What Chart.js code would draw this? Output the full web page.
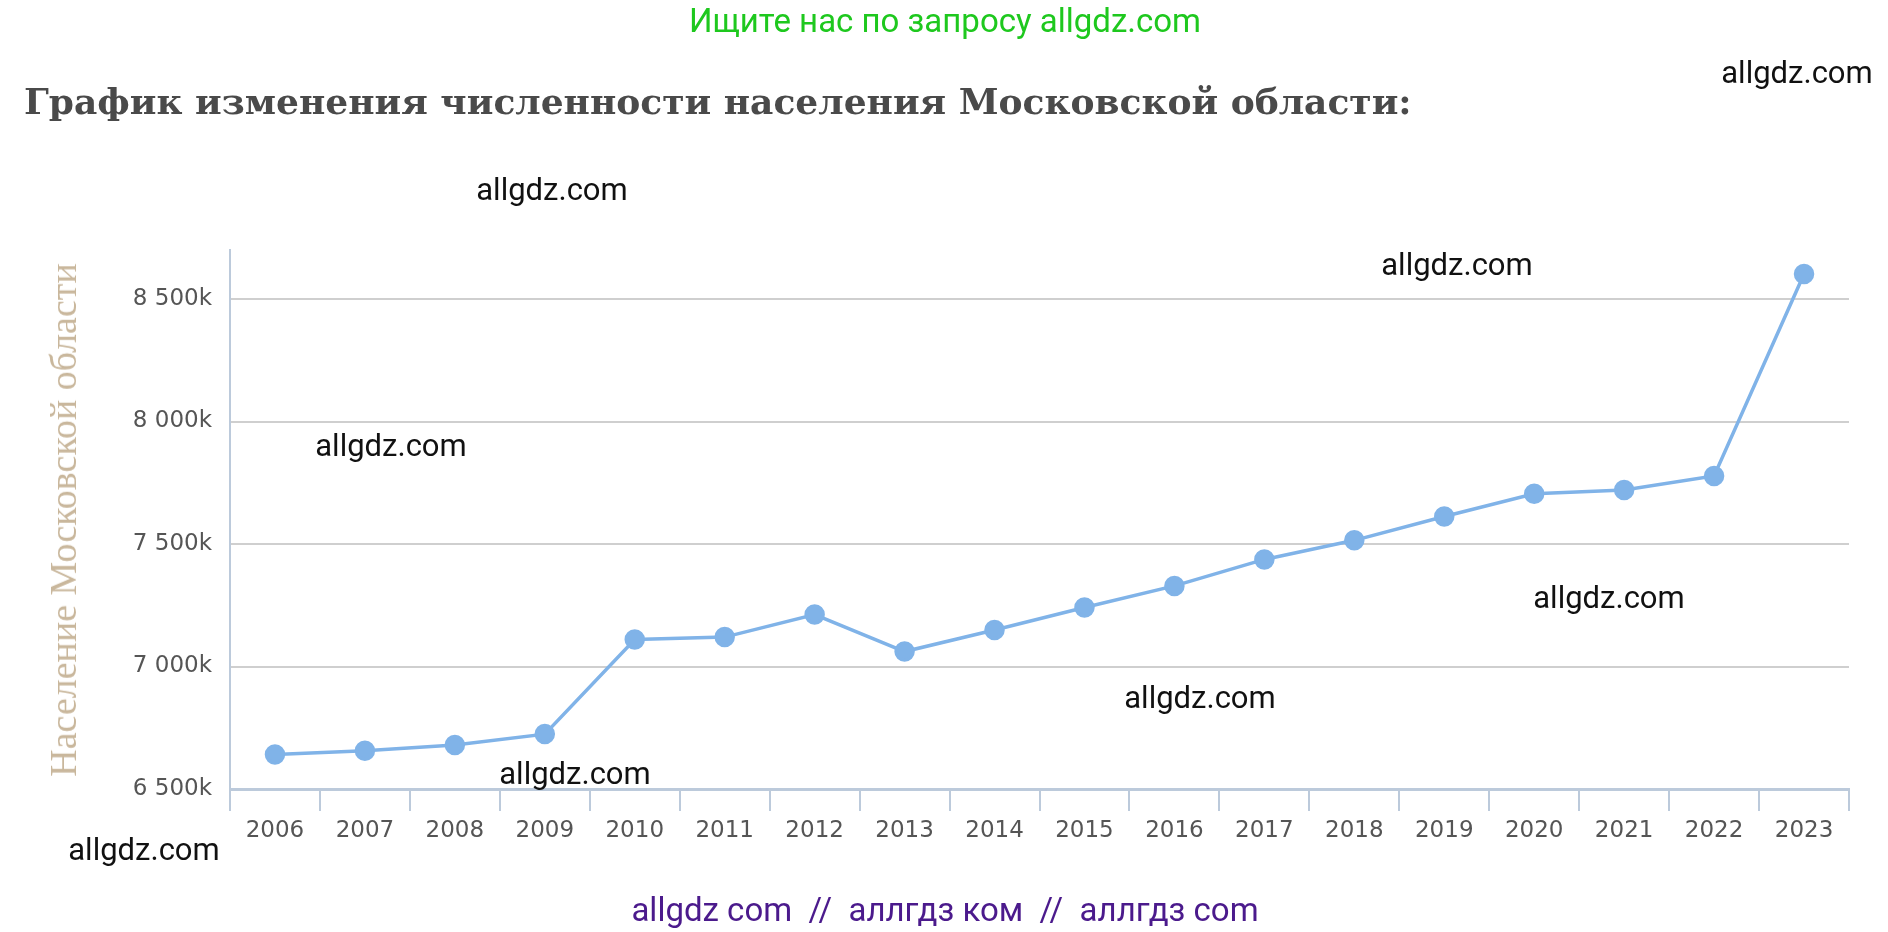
<!DOCTYPE html>
<html>
<head>
<meta charset="utf-8">
<script src="https://cdn.jsdelivr.net/npm/chart.js@4"></script>
<style>
  body { margin: 0; width: 1888px; height: 932px; background: #fff; position: relative; overflow: hidden; }
  #wrap { position: absolute; left: 0; top: 0; width: 1888px; height: 932px; }
  .t { position: absolute; white-space: nowrap; transform: translate(-50%, -50%); font-family: Roboto, sans-serif; font-size: 31px; color: #111; }
  #title { position: absolute; left: 24px; top: 80px; font-family: "DejaVu Serif", serif; font-weight: bold; font-size: 36px; color: #4a4a4a; white-space: nowrap; }
  #ytitle { position: absolute; left: 63px; top: 520px; transform: translate(-50%, -50%) rotate(-90deg); font-family: "Liberation Serif", serif; font-size: 38px; color: #c9b79c; white-space: nowrap; }
</style>
</head>
<body>
<div id="wrap"><canvas id="popChart"></canvas></div>
<div class="t" style="left:945px;top:20px;color:#1ec81e;font-size:33px;">Ищите нас по запросу allgdz.com</div>
<div id="title">График изменения численности населения Московской области:</div>
<div id="ytitle">Население Московской области</div>
<div class="t" style="left:1797px;top:72px;">allgdz.com</div>
<div class="t" style="left:552px;top:189px;">allgdz.com</div>
<div class="t" style="left:1457px;top:264px;">allgdz.com</div>
<div class="t" style="left:391px;top:445px;">allgdz.com</div>
<div class="t" style="left:1609px;top:597px;">allgdz.com</div>
<div class="t" style="left:1200px;top:697px;">allgdz.com</div>
<div class="t" style="left:575px;top:773px;">allgdz.com</div>
<div class="t" style="left:144px;top:849px;">allgdz.com</div>
<div class="t" style="left:945px;top:909px;color:#4b1a8c;font-size:33px;">allgdz com &nbsp;// &nbsp;аллгдз ком &nbsp;// &nbsp;аллгдз com</div>
<script>
const years = ["2006","2007","2008","2009","2010","2011","2012","2013","2014","2015","2016","2017","2018","2019","2020","2021","2022","2023"];
const population = [6641, 6656, 6680, 6724, 7110, 7120, 7212, 7061, 7149, 7241, 7329, 7437, 7515, 7612, 7705, 7720, 7778, 8602];
const yTicks = [6500, 7000, 7500, 8000, 8500];

function fmt(v) {
  return String(v).replace(/\B(?=(\d{3})+(?!\d))/g, " ") + "k";
}

new Chart(document.getElementById("popChart").getContext("2d"), {
  type: "line",
  data: {
    labels: years,
    datasets: [{
      data: population,
      borderColor: "#80b3e8",
      backgroundColor: "#80b3e8",
      borderWidth: 3.5,
      pointRadius: 8.5,
      pointHoverRadius: 8.5,
      tension: 0
    }]
  },
  options: {
    responsive: true,
    maintainAspectRatio: false,
    animation: false,
    layout: { padding: { top: 250, right: 39, left: 0, bottom: 0 } },
    plugins: { legend: { display: false }, tooltip: { enabled: false } },
    scales: {
      x: {
        offset: true,
        afterFit: s => { s.height = 143; },
        grid: { offset: true, drawOnChartArea: false, color: "#bccadb", tickLength: 22, lineWidth: 2 },
        border: { color: "#bccadb", width: 3 },
        ticks: { color: "#555", font: { family: "DejaVu Sans", size: 23 }, padding: 6 }
      },
      y: {
        min: 6500,
        max: 8700,
        afterFit: s => { s.width = 230; },
        afterBuildTicks: s => { s.ticks = yTicks.map(v => ({ value: v })); },
        grid: { color: "#cfcfcf", lineWidth: 2, drawTicks: false },
        border: { color: "#bccadb", width: 2 },
        ticks: { color: "#555", font: { family: "DejaVu Sans", size: 23 }, padding: 18, callback: v => fmt(v) }
      }
    }
  }
});
</script>
</body>
</html>
